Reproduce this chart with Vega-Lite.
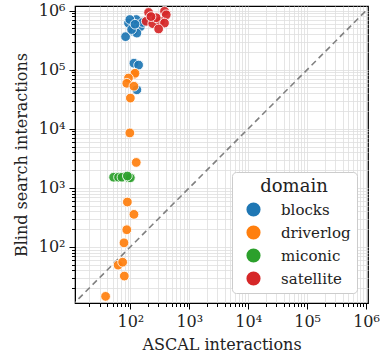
{
  "$schema": "https://vega.github.io/schema/vega-lite/v6.json",
  "autosize": "none",
  "width": 293,
  "height": 297,
  "padding": {"left": 75, "top": 6, "right": 12, "bottom": 57},
  "background": "white",
  "config": {
    "font": "DejaVu Serif",
    "view": {"stroke": "black", "strokeWidth": 1.2},
    "axis": {
      "labelFont": "DejaVu Serif",
      "titleFont": "DejaVu Serif",
      "labelFontSize": 16,
      "titleFontSize": 16,
      "titleFontWeight": "normal",
      "labelColor": "#222",
      "titleColor": "#222",
      "domainColor": "black",
      "tickColor": "black",
      "gridColor": "#dedede",
      "gridWidth": 0.8
    }
  },
  "datasets": {
    "pts": [
      {"domain": "blocks", "ascal": 83, "blind": 363000},
      {"domain": "blocks", "ascal": 107, "blind": 537000},
      {"domain": "blocks", "ascal": 126, "blind": 708000},
      {"domain": "blocks", "ascal": 93, "blind": 617000},
      {"domain": "blocks", "ascal": 148, "blind": 537000},
      {"domain": "blocks", "ascal": 112, "blind": 447000},
      {"domain": "blocks", "ascal": 129, "blind": 417000},
      {"domain": "blocks", "ascal": 98, "blind": 708000},
      {"domain": "blocks", "ascal": 162, "blind": 631000},
      {"domain": "blocks", "ascal": 105, "blind": 479000},
      {"domain": "blocks", "ascal": 120, "blind": 589000},
      {"domain": "blocks", "ascal": 115, "blind": 129000},
      {"domain": "blocks", "ascal": 138, "blind": 120000},
      {"domain": "blocks", "ascal": 129, "blind": 45700},
      {"domain": "driverlog", "ascal": 115, "blind": 83200},
      {"domain": "driverlog", "ascal": 120, "blind": 87100},
      {"domain": "driverlog", "ascal": 93, "blind": 72400},
      {"domain": "driverlog", "ascal": 87, "blind": 58900},
      {"domain": "driverlog", "ascal": 115, "blind": 52500},
      {"domain": "driverlog", "ascal": 100, "blind": 33100},
      {"domain": "driverlog", "ascal": 98, "blind": 8500},
      {"domain": "driverlog", "ascal": 126, "blind": 2690},
      {"domain": "driverlog", "ascal": 89, "blind": 575},
      {"domain": "driverlog", "ascal": 115, "blind": 355},
      {"domain": "driverlog", "ascal": 87, "blind": 195},
      {"domain": "driverlog", "ascal": 78, "blind": 117},
      {"domain": "driverlog", "ascal": 62, "blind": 49},
      {"domain": "driverlog", "ascal": 74, "blind": 55},
      {"domain": "driverlog", "ascal": 79, "blind": 32},
      {"domain": "driverlog", "ascal": 38, "blind": 14.5},
      {"domain": "miconic", "ascal": 52, "blind": 1510},
      {"domain": "miconic", "ascal": 63, "blind": 1510},
      {"domain": "miconic", "ascal": 72, "blind": 1510},
      {"domain": "miconic", "ascal": 93, "blind": 1480},
      {"domain": "miconic", "ascal": 100, "blind": 1480},
      {"domain": "miconic", "ascal": 89, "blind": 1585},
      {"domain": "satellite", "ascal": 204, "blind": 933000},
      {"domain": "satellite", "ascal": 380, "blind": 977000},
      {"domain": "satellite", "ascal": 407, "blind": 851000},
      {"domain": "satellite", "ascal": 186, "blind": 661000},
      {"domain": "satellite", "ascal": 240, "blind": 603000},
      {"domain": "satellite", "ascal": 324, "blind": 661000},
      {"domain": "satellite", "ascal": 380, "blind": 617000},
      {"domain": "satellite", "ascal": 302, "blind": 490000},
      {"domain": "satellite", "ascal": 275, "blind": 759000},
      {"domain": "satellite", "ascal": 224, "blind": 794000}
    ],
    "diag": [
      {"ascal": 10, "blind": 10},
      {"ascal": 2000000, "blind": 2000000}
    ]
  },
  "layer": [
    {
      "data": {"name": "diag"},
      "mark": {"type": "line", "color": "#808080", "strokeDash": [6, 4], "strokeWidth": 1.6, "clip": true},
      "encoding": {
        "x": {
          "field": "ascal", "type": "quantitative",
          "scale": {"type": "log", "domain": [11.5, 1080000], "nice": false},
          "axis": {
            "title": "ASCAL interactions",
            "titlePadding": 7,
            "values": [20,30,40,50,60,70,80,90,100,200,300,400,500,600,700,800,900,1000,2000,3000,4000,5000,6000,7000,8000,9000,10000,20000,30000,40000,50000,60000,70000,80000,90000,100000,200000,300000,400000,500000,600000,700000,800000,900000,1000000],
            "labelExpr": "abs(log(datum.value)/LN10 - round(log(datum.value)/LN10)) < 1e-6 ? '10' + ['⁰','¹','²','³','⁴','⁵','⁶'][round(log(datum.value)/LN10)] : ''",
            "labelOverlap": false,
            "labelFlush": false,
            "labelPadding": 4,
            "tickSize": {"condition": {"test": "abs(log(datum.value)/LN10 - round(log(datum.value)/LN10)) < 1e-6", "value": 6}, "value": 3.5},
            "grid": true
          }
        },
        "y": {
          "field": "blind", "type": "quantitative",
          "scale": {"type": "log", "domain": [11.2, 1200000], "nice": false},
          "axis": {
            "title": "Blind search interactions",
            "titlePadding": 9,
            "values": [20,30,40,50,60,70,80,90,100,200,300,400,500,600,700,800,900,1000,2000,3000,4000,5000,6000,7000,8000,9000,10000,20000,30000,40000,50000,60000,70000,80000,90000,100000,200000,300000,400000,500000,600000,700000,800000,900000,1000000],
            "labelExpr": "abs(log(datum.value)/LN10 - round(log(datum.value)/LN10)) < 1e-6 ? '10' + ['⁰','¹','²','³','⁴','⁵','⁶'][round(log(datum.value)/LN10)] : ''",
            "labelOverlap": false,
            "labelFlush": false,
            "labelPadding": 4,
            "tickSize": {"condition": {"test": "abs(log(datum.value)/LN10 - round(log(datum.value)/LN10)) < 1e-6", "value": 6}, "value": 3.5},
            "grid": true
          }
        }
      }
    },
    {
      "data": {"name": "pts"},
      "mark": {"type": "circle", "size": 95, "opacity": 0.92, "stroke": "white", "strokeWidth": 0.9},
      "encoding": {
        "x": {"field": "ascal", "type": "quantitative"},
        "y": {"field": "blind", "type": "quantitative"},
        "color": {
          "field": "domain", "type": "nominal",
          "scale": {"domain": ["blocks", "driverlog", "miconic", "satellite"], "range": ["#1f77b4", "#ff7f0e", "#2ca02c", "#d62728"]},
          "legend": {
            "title": "domain",
            "orient": "none",
            "legendX": 157,
            "legendY": 166,
            "padding": 6,
            "fillColor": "white",
            "strokeColor": "#cccccc",
            "cornerRadius": 4,
            "titleFont": "DejaVu Serif",
            "titleFontSize": 18,
            "titleFontWeight": "normal",
            "titleColor": "#222",
            "titleAnchor": "middle",
            "titlePadding": 6,
            "labelFont": "DejaVu Serif",
            "labelFontSize": 15,
            "labelColor": "#222",
            "labelOffset": 20,
            "symbolType": "circle",
            "symbolSize": 200,
            "symbolOpacity": 1,
            "symbolStrokeWidth": 0,
            "symbolOffset": 8,
            "rowPadding": 7
          }
        }
      }
    }
  ]
}
